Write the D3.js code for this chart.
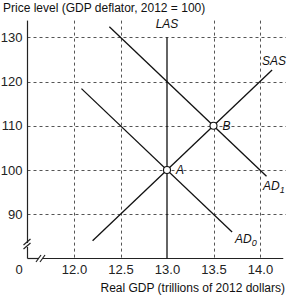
<!DOCTYPE html>
<html>
<head>
<meta charset="utf-8">
<script src="https://cdn.jsdelivr.net/npm/d3@7"></script>
<style>
  body { margin: 0; background: #fff; }
  svg { display: block; }
  .tick text { font-family: "Liberation Sans", Arial, sans-serif; font-size: 13px; fill: #222; }
  .title { font-family: "Liberation Sans", Arial, sans-serif; font-size: 12px; fill: #111; }
  .curve-label { font-family: "Liberation Sans", Arial, sans-serif; font-size: 12px; font-style: italic; fill: #111; }
</style>
</head>
<body>
<div id="chart"></div>
<script>
"use strict";

// data
const xTicks = [12.0, 12.5, 13.0, 13.5, 14.0];
const yTicks = [90, 100, 110, 120, 130];
const lasLine = [[13.0, 80], [13.0, 130]];
const sasLine = [[12.2, 84], [14.13, 122.6]];
const ad0Line = [[12.08, 118.4], [13.7, 86]];
const ad1Line = [[12.38, 132.4], [14.07, 98.6]];
const equilibria = [
    { name: "A", x: 13.0, y: 100 },
    { name: "B", x: 13.5, y: 110 }
];

const width = 288;
const height = 297;

const x = d3.scaleLinear().domain([11.5, 14.25]).range([27.5, 283.25]);
const y = d3.scaleLinear().domain([80, 134]).range([258.5, 19.6]);

const svg = d3.select("#chart")
    .append("svg")
    .attr("width", width)
    .attr("height", height);

// dashed grid
const grid = svg.append("g")
    .attr("stroke", "#555")
    .attr("stroke-width", 1)
    .attr("stroke-dasharray", "3,3");
grid.selectAll("line.h")
    .data(yTicks)
    .join("line")
    .attr("class", "h")
    .attr("x1", x.range()[0])
    .attr("x2", 286)
    .attr("y1", (d) => Math.round(y(d)) + 0.5)
    .attr("y2", (d) => Math.round(y(d)) + 0.5);
grid.selectAll("line.v")
    .data(xTicks.filter((d) => d !== 13.0))
    .join("line")
    .attr("class", "v")
    .attr("x1", (d) => Math.round(x(d)) + 0.5)
    .attr("x2", (d) => Math.round(x(d)) + 0.5)
    .attr("y1", y.range()[1] + 1)
    .attr("y2", y.range()[0]);

// axes (tick labels only, lines are drawn with the breaks below)
const xAxis = svg.append("g")
    .attr("transform", `translate(0,${y.range()[0]})`)
    .call(d3.axisBottom(x).tickValues(xTicks).tickSize(0).tickPadding(6).tickFormat(d3.format(".1f")));
xAxis.select(".domain").remove();

const yAxis = svg.append("g")
    .attr("transform", `translate(${x.range()[0]},0)`)
    .call(d3.axisLeft(y).tickValues(yTicks).tickSize(0).tickPadding(5));
yAxis.select(".domain").remove();

svg.append("text")
    .attr("x", 19)
    .attr("y", 274)
    .attr("text-anchor", "middle")
    .style("font-family", "Liberation Sans, Arial, sans-serif")
    .style("font-size", "13px")
    .attr("fill", "#222")
    .text("0");

const axisLines = svg.append("g")
    .attr("stroke", "#222")
    .attr("stroke-width", 1.2)
    .attr("fill", "none");
const x0 = x.range()[0];
const yb = y.range()[0];
// y axis with break
axisLines.append("line").attr("x1", x0).attr("x2", x0).attr("y1", y.range()[1] + 1).attr("y2", 243);
axisLines.append("line").attr("x1", x0).attr("x2", x0).attr("y1", 247).attr("y2", yb);
axisLines.append("line").attr("x1", x0 - 4).attr("x2", x0 + 3).attr("y1", 245).attr("y2", 239);
axisLines.append("line").attr("x1", x0 - 4).attr("x2", x0 + 3).attr("y1", 249).attr("y2", 243);
// x axis with break
axisLines.append("line").attr("x1", x0).attr("x2", 39).attr("y1", yb).attr("y2", yb);
axisLines.append("line").attr("x1", 43).attr("x2", x.range()[1]).attr("y1", yb).attr("y2", yb);
axisLines.append("line").attr("x1", 36).attr("x2", 41).attr("y1", 262).attr("y2", 255);
axisLines.append("line").attr("x1", 40).attr("x2", 45).attr("y1", 262).attr("y2", 255);

// curves
const line = d3.line().x((d) => x(d[0])).y((d) => y(d[1]));
const curves = svg.append("g")
    .attr("fill", "none")
    .attr("stroke", "#111")
    .attr("stroke-width", 1.3);
[lasLine, sasLine, ad0Line, ad1Line].forEach((c) => {
    curves.append("path").attr("d", line(c));
});

// equilibrium points
svg.append("g")
    .selectAll("circle")
    .data(equilibria)
    .join("circle")
    .attr("cx", (d) => x(d.x))
    .attr("cy", (d) => y(d.y))
    .attr("r", 3.5)
    .attr("fill", "#fff")
    .attr("stroke", "#111")
    .attr("stroke-width", 1.1);

svg.selectAll("text.pt")
    .data(equilibria)
    .join("text")
    .attr("class", "pt curve-label")
    .attr("x", (d) => x(d.x) + 9)
    .attr("y", (d) => y(d.y) + 4)
    .text((d) => d.name);

// curve labels
svg.append("text").attr("class", "curve-label")
    .attr("x", x(13.0)).attr("y", 28).attr("text-anchor", "middle").text("LAS");
svg.append("text").attr("class", "curve-label")
    .attr("x", 286).attr("y", 65).attr("text-anchor", "end").text("SAS");
const ad1Text = svg.append("text").attr("class", "curve-label").attr("x", 263).attr("y", 190);
ad1Text.append("tspan").text("AD");
ad1Text.append("tspan").attr("dy", 3).style("font-size", "9px").text("1");
const ad0Text = svg.append("text").attr("class", "curve-label").attr("x", 235).attr("y", 243);
ad0Text.append("tspan").text("AD");
ad0Text.append("tspan").attr("dy", 3).style("font-size", "9px").text("0");

// titles
svg.append("text").attr("class", "title").attr("x", 3).attr("y", 12)
    .text("Price level (GDP deflator, 2012 = 100)");
svg.append("text").attr("class", "title").attr("x", 285).attr("y", 292)
    .attr("text-anchor", "end")
    .text("Real GDP (trillions of 2012 dollars)");
</script>
</body>
</html>
